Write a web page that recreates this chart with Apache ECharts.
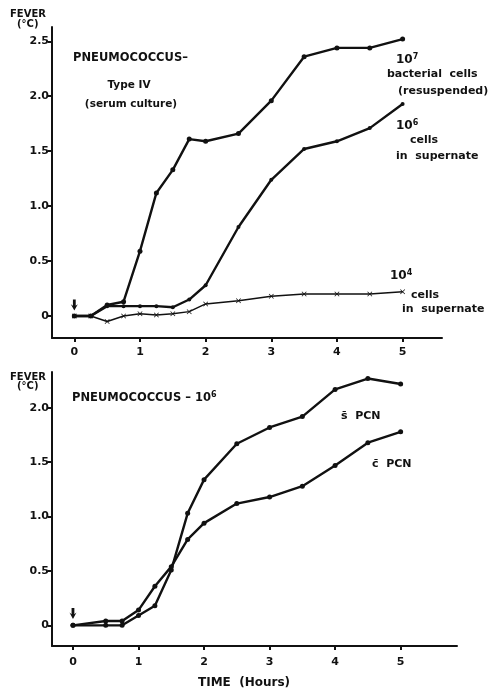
<!DOCTYPE html>
<html>
<head>
<meta charset="utf-8">
<script src="https://cdn.jsdelivr.net/npm/echarts@6/dist/echarts.min.js"></script>
<style>
  html, body { margin: 0; padding: 0; background: #fff; }
  #chart { width: 495px; height: 694px; }
</style>
</head>
<body>
<div id="chart"></div>
<script>
// top panel: pneumococcus type IV, hours vs fever
var topTimes = [0, 0.25, 0.5, 0.75, 1, 1.25, 1.5, 1.75, 2, 2.5, 3, 3.5, 4, 4.5, 5];
var cells7 = [0, 0, 0.1, 0.13, 0.59, 1.12, 1.33, 1.61, 1.59, 1.66, 1.96, 2.36, 2.44, 2.44, 2.52];
var cells6 = [0, 0, 0.09, 0.09, 0.09, 0.09, 0.08, 0.15, 0.28, 0.81, 1.24, 1.52, 1.59, 1.71, 1.93];
var cells4 = [0, 0, -0.05, 0.0, 0.02, 0.01, 0.02, 0.04, 0.11, 0.14, 0.18, 0.2, 0.2, 0.2, 0.22];

// bottom panel: pneumococcus 10^6, without / with PCN
var botTimes = [0, 0.5, 0.75, 1, 1.25, 1.5, 1.75, 2, 2.5, 3, 3.5, 4, 4.5, 5];
var sinePCN = [0, 0, 0, 0.09, 0.18, 0.51, 1.03, 1.34, 1.67, 1.82, 1.92, 2.17, 2.27, 2.22];
var cumPCN = [0, 0.04, 0.04, 0.14, 0.36, 0.54, 0.79, 0.94, 1.12, 1.18, 1.28, 1.47, 1.68, 1.78];

var hourTicks = [0, 1, 2, 3, 4, 5];
var topFeverTicks = [0, 0.5, 1.0, 1.5, 2.0, 2.5];
var botFeverTicks = [0, 0.5, 1.0, 1.5, 2.0];

function pairs(xs, ys) {
    return xs.map(function (x, i) { return [x, ys[i]]; });
}

var font = 'DejaVu Sans';
var ink = '#111';
var crossPath = 'path://M1,0L5,4L9,0L10,1L6,5L10,9L9,10L5,6L1,10L0,9L4,5L0,1Z';
var arrowPath = 'path://M3,0L7,0L7,8L10,6L5,14L0,6L3,8Z';

function xAxis(idx, min, max, margin) {
    return {
        type: 'value', gridIndex: idx, min: min, max: max,
        splitLine: { show: false },
        axisLine: { onZero: false, lineStyle: { color: ink, width: 2 } },
        axisTick: { customValues: hourTicks, length: 4, lineStyle: { color: ink, width: 2 } },
        axisLabel: { customValues: hourTicks, color: ink, fontFamily: font, fontWeight: 'bold', fontSize: 11, margin: margin }
    };
}
function yAxis(idx, min, max, ticks) {
    return {
        type: 'value', gridIndex: idx, min: min, max: max,
        splitLine: { show: false },
        axisLine: { show: true, onZero: false, lineStyle: { color: ink, width: 2 } },
        axisTick: { show: true, customValues: ticks, length: 4, lineStyle: { color: ink, width: 2 } },
        axisLabel: {
            customValues: ticks, color: ink, fontFamily: font, fontWeight: 'bold', fontSize: 11, margin: 3,
            formatter: function (v) { return v === 0 ? '0' : v.toFixed(1); }
        }
    };
}
function line(name, idx, data, symbol, size, thin) {
    return {
        name: name, type: 'line', xAxisIndex: idx, yAxisIndex: idx, data: data,
        symbol: symbol, symbolSize: size, showSymbol: true,
        lineStyle: { color: ink, width: thin ? 1.5 : 2.4 },
        itemStyle: { color: ink, borderWidth: 0 },
        silent: true, animation: false
    };
}
// x,y = anchor, text vertically centred on y
function txt(x, y, text, size, align) {
    return {
        type: 'text', x: x, y: y,
        style: {
            text: text, fill: ink, font: 'bold ' + size + 'px "' + font + '"',
            textAlign: align || 'left', textVerticalAlign: 'middle'
        }
    };
}
function sup(x, y, base, power, size) {
    return {
        type: 'text', x: x, y: y,
        style: {
            text: '{a|' + base + '}{s|' + power + '}',
            textVerticalAlign: 'middle',
            rich: {
                a: { fontFamily: font, fontWeight: 'bold', fontSize: size, fill: ink, color: ink },
                s: { fontFamily: font, fontWeight: 'bold', fontSize: 8, fill: ink, color: ink, verticalAlign: 'top', padding: [0, 0, 7, 0] }
            }
        }
    };
}
function arrow(x, v) {
    return {
        symbol: arrowPath, symbolSize: [7, 11], symbolOffset: [0, 0],
        itemStyle: { color: ink }, label: { show: false },
        data: [{ coord: [x, v] }]
    };
}

var dom = document.getElementById('chart');
var chart = echarts.init(dom, null, { renderer: 'canvas' });

var s7 = line('10^7', 0, pairs(topTimes, cells7), 'circle', 5, false);
s7.markPoint = arrow(0, 0.1);
var sBot = line('sine PCN', 1, pairs(botTimes, sinePCN), 'circle', 5, false);
sBot.markPoint = arrow(0, 0.11);

var option = {
    backgroundColor: '#fff',
    animation: false,
    grid: [
        { left: 52, top: 27, width: 390, height: 311 },
        { left: 52, top: 372, width: 405, height: 274 }
    ],
    xAxis: [xAxis(0, -0.34, 5.6, 9), xAxis(1, -0.32, 5.86, 11)],
    yAxis: [yAxis(0, -0.2, 2.63, topFeverTicks), yAxis(1, -0.19, 2.33, botFeverTicks)],
    series: [
        s7,
        line('10^6', 0, pairs(topTimes, cells6), 'circle', 4, false),
        line('10^4', 0, pairs(topTimes, cells4), crossPath, 5, true),
        sBot,
        line('cum PCN', 1, pairs(botTimes, cumPCN), 'circle', 5, false)
    ],
    graphic: [
        txt(10, 14, 'FEVER', 10), txt(17, 24, '(°C)', 10),
        txt(73, 58, 'PNEUMOCOCCUS–', 11.5),
        txt(129, 85, 'Type IV', 10.5, 'center'),
        txt(131, 104, '(serum culture)', 10.5, 'center'),
        sup(396, 60, '10', '7', 12),
        txt(387, 74, 'bacterial  cells', 11),
        txt(398, 91, '(resuspended)', 11),
        sup(396, 126, '10', '6', 12),
        txt(410, 140, 'cells', 11),
        txt(396, 156, 'in  supernate', 11),
        sup(390, 276, '10', '4', 12),
        txt(411, 295, 'cells', 11),
        txt(402, 309, 'in  supernate', 11),

        txt(10, 377, 'FEVER', 10), txt(17, 386, '(°C)', 10),
        sup(72, 398, 'PNEUMOCOCCUS – 10', '6', 11.5),
        txt(341, 416, 's\u0304  PCN', 11),
        txt(372, 464, 'c\u0304  PCN', 11),
        txt(244, 683, 'TIME  (Hours)', 12, 'center')
    ]
};
chart.setOption(option);
</script>
</body>
</html>
